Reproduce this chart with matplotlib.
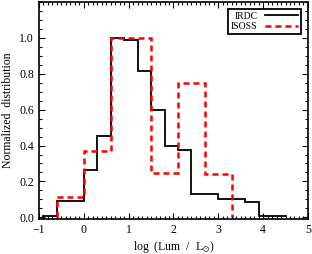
import numpy as np
import matplotlib
matplotlib.use("Agg")
import matplotlib.pyplot as plt
from matplotlib.ticker import MultipleLocator

plt.rcParams['font.family'] = ['Liberation Serif', 'DejaVu Serif']
plt.rcParams['mathtext.fontset'] = 'stix'

# IRDC histogram (bin width 0.3)
irdc_edges = [-0.9, -0.6, -0.3, 0.0, 0.3, 0.6, 0.9, 1.2, 1.5, 1.8, 2.1,
              2.4, 2.7, 3.0, 3.3, 3.6, 3.9, 4.2, 4.5]
irdc_vals = [0.01, 0.09, 0.09, 0.265, 0.455, 1.0, 0.985, 0.815, 0.60, 0.40,
             0.375, 0.13, 0.13, 0.105, 0.105, 0.088, 0.01, 0.01]

# ISOSS histogram
isoss_edges = [-0.6, 0.0, 0.6, 1.5, 2.1, 2.7, 3.3]
isoss_vals = [0.115, 0.37, 1.0, 0.245, 0.75, 0.24]

fig = plt.figure(figsize=(3.12, 2.54), dpi=100)
ax = fig.add_axes([0.125, 0.137, 0.862, 0.856])

ax.stairs(irdc_vals, irdc_edges, color='black', lw=1.3, label='IRDC')
ax.stairs(isoss_vals, isoss_edges, color='red', lw=1.8, ls=(0, (2.4, 1.6)),
          label='ISOSS')

ax.set_xlim(-1, 5)
ax.set_ylim(-0.01, 1.2)
ax.set_yticks([0.0, 0.2, 0.4, 0.6, 0.8, 1.0])
ax.xaxis.set_major_locator(MultipleLocator(1))
ax.xaxis.set_minor_locator(MultipleLocator(0.1))
ax.yaxis.set_minor_locator(MultipleLocator(0.05))
ax.tick_params(which='both', direction='in', top=True, right=True,
               labelsize=8.5, width=0.8)
ax.tick_params(which='major', length=4)
ax.tick_params(which='minor', length=2)
for s in ax.spines.values():
    s.set_linewidth(1.2)

ax.set_xlabel(r'log  (Lum  /  L$_{\odot}$)', fontsize=8.5, labelpad=2)
ax.set_ylabel('Normalized  distribution', fontsize=8.5, labelpad=4)

leg = ax.legend(loc='upper right', fontsize=7, markerfirst=False,
                fancybox=False, framealpha=1, edgecolor='black',
                handlelength=3.4, borderpad=0.3, labelspacing=0.15,
                handletextpad=0.8, borderaxespad=0.7)
leg.get_frame().set_linewidth(1.3)

fig.savefig('out.png', dpi=100)
